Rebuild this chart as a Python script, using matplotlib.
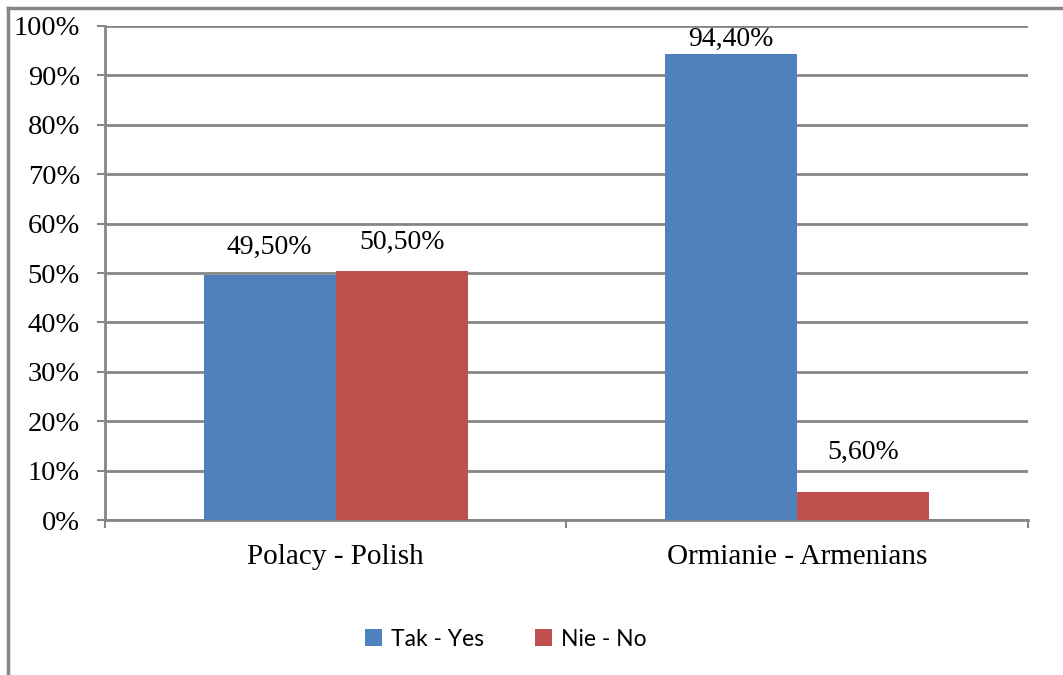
import numpy as np
import matplotlib.pyplot as plt
from matplotlib.lines import Line2D

groups = ["Polacy - Polish", "Ormianie - Armenians"]
yes_vals = [49.5, 94.4]
no_vals = [50.5, 5.6]
series_names = ["Tak - Yes", "Nie - No"]
yticks = list(range(0, 101, 10))

blue = "#4f81bd"
red = "#c0504d"
grey = "#868686"

fig = plt.figure(figsize=(10.63, 6.75), dpi=100)
ax = fig.add_axes([0.0988, 0.2296, 0.868, 0.7319])

x = np.arange(len(groups))
w = 0.286
b1 = ax.bar(x - w / 2, yes_vals, w, color=blue, label=series_names[0], zorder=3)
b2 = ax.bar(x + w / 2, no_vals, w, color=red, label=series_names[1], zorder=3)

def fmt(v):
    return f"{v:.2f}%".replace(".", ",")

# label gaps above each bar (points): Polish pair, Armenians pair
yes_gap = [11, 1.5]
no_gap = [11, 20]
for bars, vals, gaps in ((b1, yes_vals, yes_gap), (b2, no_vals, no_gap)):
    for r, v, g in zip(bars, vals, gaps):
        ax.annotate(fmt(v), (r.get_x() + r.get_width() / 2, v),
                    xytext=(0, g), textcoords="offset points",
                    ha="center", va="bottom", fontsize=20,
                    family="Liberation Serif", zorder=4)

ax.set_xlim(-0.5, 1.5)
ax.set_ylim(0, 100)
ax.set_yticks(yticks)
ax.set_yticklabels([f"{t}%" for t in yticks], family="Liberation Serif", fontsize=20.5)
ax.yaxis.grid(True, color=grey, linewidth=2, zorder=0)

ax.set_xticks(x)
ax.set_xticklabels(groups, family="Liberation Serif", fontsize=21)
ax.set_xticks([-0.5, 0.5, 1.5], minor=True)
ax.tick_params(axis="x", which="major", length=0, pad=17)
ax.tick_params(axis="x", which="minor", length=6, width=1.5, color=grey, direction="out")
ax.tick_params(axis="y", length=6, width=1.5, color=grey, direction="out", pad=12)

for s in ("top", "right"):
    ax.spines[s].set_visible(False)
for s in ("left", "bottom"):
    ax.spines[s].set_color(grey)
    ax.spines[s].set_linewidth(2)

fig.legend(handles=[b1, b2], labels=series_names, loc="center",
           bbox_to_anchor=(0.476, 0.053), ncol=2, frameon=False,
           prop={"family": "Lato", "size": 16.5}, handlelength=0.75,
           handleheight=0.75, handletextpad=0.4, columnspacing=2.2)

# outer chart frame (top and left edges)
fig.add_artist(Line2D([0.0075, 1.0], [0.988, 0.988], color=grey, linewidth=2.5,
                      transform=fig.transFigure))
fig.add_artist(Line2D([0.0075, 0.0075], [0.0, 0.988], color=grey, linewidth=2.5,
                      transform=fig.transFigure))

fig.savefig("out.png", dpi=100)
